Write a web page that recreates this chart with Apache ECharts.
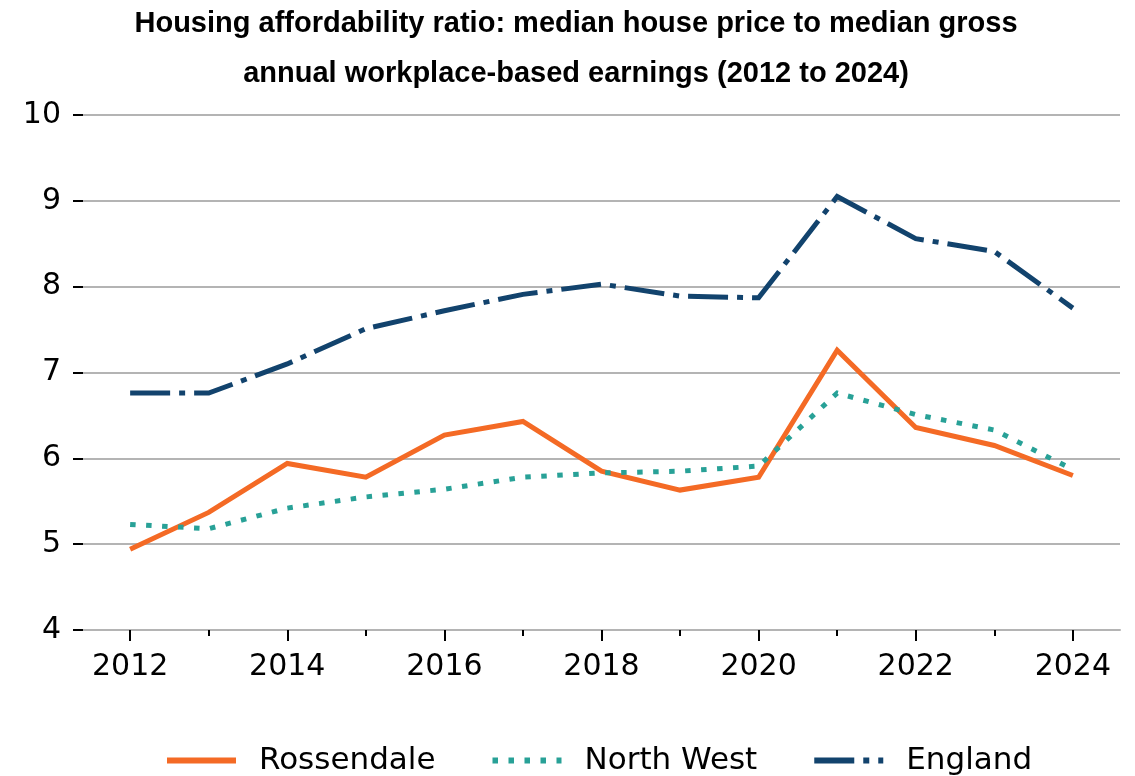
<!DOCTYPE html>
<html>
<head>
<meta charset="utf-8">
<script src="https://cdn.jsdelivr.net/npm/echarts@6/dist/echarts.min.js"></script>
<style>
  html, body { margin: 0; padding: 0; background: #fff; }
  #chart { width: 1135px; height: 776px; }
</style>
</head>
<body>
<div id="chart"></div>
<script>
// years on the x axis
const years = [2012, 2013, 2014, 2015, 2016, 2017, 2018, 2019, 2020, 2021, 2022, 2023, 2024]
const majorYears = [2012, 2014, 2016, 2018, 2020, 2022, 2024]
const minorYears = [2013, 2015, 2017, 2019, 2021, 2023]

// affordability ratios
const rossendale = [4.94, 5.37, 5.94, 5.78, 6.27, 6.43, 5.85, 5.63, 5.78, 7.26, 6.36, 6.15, 5.80]
const northWest = [5.23, 5.18, 5.42, 5.55, 5.64, 5.78, 5.83, 5.85, 5.91, 6.76, 6.51, 6.33, 5.87]
const england = [6.76, 6.76, 7.10, 7.51, 7.72, 7.91, 8.03, 7.89, 7.87, 9.05, 8.56, 8.41, 7.75]

const titleLines = [
  'Housing affordability ratio: median house price to median gross',
  'annual workplace-based earnings (2012 to 2024)'
]

const font = 'DejaVu Sans'

// pair each year with its value
const toPoints = (vals) => years.map((y, i) => [y, vals[i]])

const chart = echarts.init(document.getElementById('chart'))

const lineSeries = (name, vals, color, dash) => ({
  name,
  type: 'line',
  data: toPoints(vals),
  symbol: 'none',
  xAxisIndex: 0,
  lineStyle: { color, width: 5, type: dash, cap: 'butt', join: 'miter' },
  itemStyle: { color },
  emphasis: { disabled: true }
})

chart.setOption({
  animation: false,
  backgroundColor: '#fff',
  title: {
    text: titleLines.join('\n'),
    left: 571,
    textAlign: 'center',
    top: -6,
    textStyle: {
      fontFamily: 'Liberation Sans',
      fontWeight: 'bold',
      fontSize: 29,
      lineHeight: 50,
      color: '#000'
    }
  },
  grid: { left: 83, right: 15, top: 115, bottom: 146 },
  legend: {
    bottom: 0,
    left: 164,
    padding: 0,
    itemWidth: 69,
    itemHeight: 14,
    itemGap: 54,
    itemStyle: { opacity: 0, borderWidth: 0 },
    lineStyle: { width: 6 },
    textStyle: { fontFamily: font, fontSize: 31, color: '#000', padding: [0, 0, 0, 18] },
    data: ['Rossendale', 'North West', 'England']
  },
  xAxis: [
    {
      type: 'value',
      min: 2011.4,
      max: 2024.6,
      axisLine: { show: true, lineStyle: { color: '#b4b4b4', width: 2 } },
      axisTick: { show: true, customValues: majorYears, length: 11, lineStyle: { color: '#000', width: 2 } },
      axisLabel: {
        customValues: majorYears,
        formatter: (v) => String(v),
        fontFamily: font,
        fontSize: 30,
        color: '#000',
        margin: 22
      },
      splitLine: { show: false }
    },
    {
      type: 'value',
      position: 'bottom',
      min: 2011.4,
      max: 2024.6,
      axisLine: { show: false },
      axisTick: { show: true, customValues: minorYears, length: 6, lineStyle: { color: '#000', width: 2 } },
      axisLabel: { show: false },
      splitLine: { show: false }
    }
  ],
  yAxis: {
    type: 'value',
    min: 4,
    max: 10,
    interval: 1,
    axisLine: { show: false },
    axisTick: { show: true, length: 10, lineStyle: { color: '#000', width: 2 } },
    axisLabel: { fontFamily: font, fontSize: 30, color: '#000', margin: 22 },
    splitLine: { lineStyle: { color: '#b4b4b4', width: 2 } }
  },
  series: [
    lineSeries('Rossendale', rossendale, '#F46A25', 'solid'),
    lineSeries('North West', northWest, '#28A197', [5.5, 10.5]),
    lineSeries('England', england, '#12436D', [40, 9, 6, 9])
  ]
})
</script>
</body>
</html>
